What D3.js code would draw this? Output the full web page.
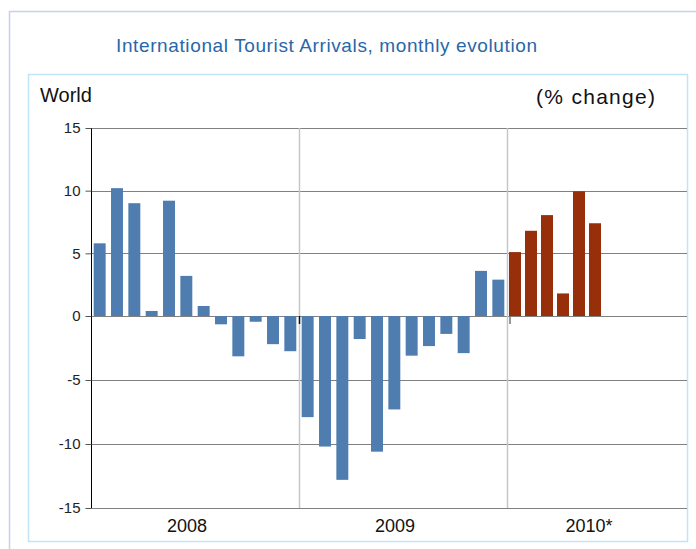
<!DOCTYPE html>
<html>
<head>
<meta charset="utf-8">
<script src="https://cdn.jsdelivr.net/npm/d3@7"></script>
<style>
  body { margin: 0; background: #fff; }
  svg { display: block; font-family: 'Liberation Sans', Arial, sans-serif; }
</style>
</head>
<body>
<div id="chart"></div>
<script>
const MONTHS = ['Jan', 'Feb', 'Mar', 'Apr', 'May', 'Jun', 'Jul', 'Aug', 'Sep', 'Oct', 'Nov', 'Dec'];
const YEARS = ['2008', '2009', '2010*'];
const values_2008 = [5.8, 10.2, 9.0, 0.4, 9.2, 3.2, 0.8, -0.65, -3.15, -0.45, -2.2, -2.75];
const values_2009 = [-7.9, -10.2, -12.8, -1.8, -10.6, -7.3, -3.1, -2.35, -1.4, -2.9, 3.6, 2.9];
const values_2010 = [5.1, 6.8, 8.05, 1.8, 9.95, 7.4];
const y_ticks = [-15, -10, -5, 0, 5, 10, 15];

const BLUE = '#4f7db0';
const RED = '#962f0a';
const GRID = '#808080';

const chart_width = 696;
const chart_height = 549;
const plot_left = 91;
const plot_right = 687;
const plot_top = 128;
const plot_bottom = 508;
const split = 507;

let svg = d3.select('#chart').append('svg')
  .attr('width', chart_width)
  .attr('height', chart_height);

// frames
svg.append('rect')
  .attr('x', 9.5).attr('y', 11.5)
  .attr('width', 720).attr('height', 560)
  .attr('fill', 'none')
  .attr('stroke', '#c3d4ea')
  .attr('stroke-width', 1.5);
svg.append('rect')
  .attr('x', 28.5).attr('y', 74.5)
  .attr('width', plot_right - 28).attr('height', 541.5 - 74.5)
  .attr('fill', '#fff')
  .attr('stroke', '#c2e4f6')
  .attr('stroke-width', 1.5);

svg.append('text')
  .attr('x', 116).attr('y', 52)
  .attr('fill', '#2867a8')
  .style('font-size', '19px')
  .attr('textLength', 421)
  .text('International Tourist Arrivals, monthly evolution');

svg.append('text')
  .attr('x', 40).attr('y', 102)
  .style('font-size', '20px')
  .attr('fill', '#111')
  .text('World');
svg.append('text')
  .attr('x', 536).attr('y', 104)
  .style('font-size', '21px')
  .attr('fill', '#111')
  .attr('textLength', 119)
  .text('(% change)');

// scales
let y = d3.scaleLinear()
  .domain([-15, 0, 15])
  .range([plot_bottom, 316, plot_top]);

let x_old = d3.scaleBand()
  .domain(d3.range(24))
  .range([plot_left, split])
  .paddingInner(0.31)
  .paddingOuter(0.155);

let x_new = d3.scaleBand()
  .domain(d3.range(12))
  .range([split, split + 192])
  .paddingInner(0.25)
  .paddingOuter(0.125);

let old_data = values_2008.concat(values_2009).map((v, i) => {
  return { year: i < 12 ? YEARS[0] : YEARS[1], month: MONTHS[i % 12], value: v, i: i };
});
let new_data = values_2010.map((v, i) => {
  return { year: YEARS[2], month: MONTHS[i], value: v, i: i };
});

// gridlines
svg.append('g').selectAll('line')
  .data(y_ticks)
  .enter().append('line')
  .attr('x1', plot_left).attr('x2', plot_right)
  .attr('y1', (d) => Math.round(y(d)) + 0.5)
  .attr('y2', (d) => Math.round(y(d)) + 0.5)
  .attr('stroke', GRID)
  .attr('stroke-width', 1);

// year separators
let seps = [x_old(12) - x_old.step() * 0.155, split];
svg.append('g').selectAll('line')
  .data(seps)
  .enter().append('line')
  .attr('x1', (d) => Math.round(d) + 0.5)
  .attr('x2', (d) => Math.round(d) + 0.5)
  .attr('y1', plot_top).attr('y2', plot_bottom)
  .attr('stroke', '#c6c6c6')
  .attr('stroke-width', 1.5);

// bars
svg.append('g').selectAll('rect')
  .data(old_data)
  .enter().append('rect')
  .attr('x', (d) => x_old(d.i))
  .attr('width', x_old.bandwidth())
  .attr('y', (d) => y(Math.max(0, d.value)))
  .attr('height', (d) => Math.abs(y(d.value) - y(0)))
  .attr('fill', BLUE);

svg.append('g').selectAll('rect')
  .data(new_data)
  .enter().append('rect')
  .attr('x', (d) => x_new(d.i))
  .attr('width', x_new.bandwidth())
  .attr('y', (d) => y(Math.max(0, d.value)))
  .attr('height', (d) => Math.abs(y(d.value) - y(0)))
  .attr('fill', RED);

// small ticks under zero line at year boundaries
svg.append('g').selectAll('line')
  .data(seps)
  .enter().append('line')
  .attr('x1', (d, i) => Math.round(d) + (i ? 3 : 0.5))
  .attr('x2', (d, i) => Math.round(d) + (i ? 3 : 0.5))
  .attr('y1', y(0)).attr('y2', y(0) + 8)
  .attr('stroke', (d, i) => i ? '#777' : '#111')
  .attr('stroke-width', 1.5);

// y axis
let y_axis = d3.axisLeft(y)
  .tickValues(y_ticks)
  .tickSize(6)
  .tickPadding(5)
  .tickFormat((d) => String(d));

let ya = svg.append('g')
  .attr('transform', `translate(${plot_left + 0.5},0)`)
  .call(y_axis);
ya.select('.domain').attr('stroke', '#000').attr('d', `M0,${plot_top}V${plot_bottom}`);
ya.selectAll('.tick line').attr('stroke', '#555');
ya.selectAll('.tick text')
  .attr('fill', '#222')
  .style('font-size', '15px')
  .style('font-family', "'Liberation Sans', Arial, sans-serif");

// year labels
let spans = [
  [plot_left, seps[0]],
  [seps[0], split],
  [split, plot_right],
];
svg.append('g').selectAll('text')
  .data(YEARS)
  .enter().append('text')
  .attr('x', (d, i) => (spans[i][0] + spans[i][1]) / 2 - 8)
  .attr('y', 532)
  .attr('text-anchor', 'middle')
  .style('font-size', '18px')
  .attr('fill', '#111')
  .text((d) => d);
</script>
</body>
</html>
